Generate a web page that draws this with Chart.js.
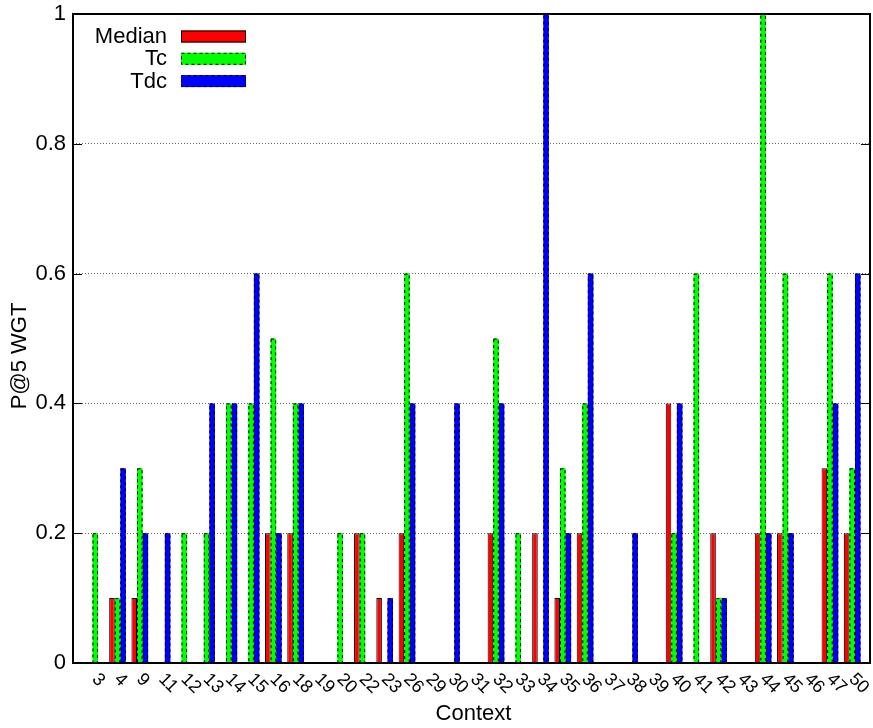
<!DOCTYPE html>
<html>
<head>
<meta charset="utf-8">
<script src="https://cdn.jsdelivr.net/npm/chart.js@4.4.0/dist/chart.umd.min.js"></script>
<style>
  html, body { margin: 0; padding: 0; background: #fff; }
  canvas { display: block; }
</style>
</head>
<body>
<canvas id="chart" width="873" height="728"></canvas>
<script>
// contexts on the x axis (one cluster each)
const contexts = ['3', '4', '9', '11', '12', '13', '14', '15', '16', '18',
    '19', '20', '22', '23', '26', '29', '30', '31', '32', '33',
    '34', '35', '36', '37', '38', '39', '40', '41', '42', '43',
    '44', '45', '46', '47', '50'];

// P@5 WGT per context
const median = [0, 0.1, 0.1, 0, 0, 0, 0, 0, 0.2, 0.2,
    0, 0, 0.2, 0.1, 0.2, 0, 0, 0, 0.2, 0,
    0.2, 0.1, 0.2, 0, 0, 0, 0.4, 0, 0.2, 0,
    0.2, 0.2, 0, 0.3, 0.2];
const tc = [0.2, 0.1, 0.3, 0, 0.2, 0.2, 0.4, 0.4, 0.5, 0.4,
    0, 0.2, 0.2, 0, 0.6, 0, 0, 0, 0.5, 0.2,
    0, 0.3, 0.4, 0, 0, 0, 0.2, 0.6, 0.1, 0,
    1.0, 0.6, 0, 0.6, 0.3];
const tdc = [0, 0.3, 0.2, 0.2, 0, 0.4, 0.4, 0.6, 0.2, 0.4,
    0, 0, 0, 0.1, 0.4, 0, 0.4, 0, 0.4, 0,
    1.0, 0.2, 0.6, 0, 0.2, 0, 0.4, 0, 0.1, 0,
    0.2, 0.2, 0, 0.4, 0.6];

const yTicks = [0, 0.2, 0.4, 0.6, 0.8, 1];

const FONT = '"Liberation Sans", Arial, Helvetica, sans-serif';

const series = [
    { label: 'Median', values: median, color: '#ff0000', dashed: false },
    { label: 'Tc', values: tc, color: '#00ff00', dashed: true },
    { label: 'Tdc', values: tdc, color: '#0000ff', dashed: true }
];

function swatch(ctx, x, y, w, h, color, dashed) {
    ctx.fillStyle = color;
    ctx.fillRect(x, y, w, h);
    ctx.strokeStyle = '#000';
    ctx.lineWidth = 1;
    ctx.setLineDash(dashed ? [3, 3] : []);
    ctx.strokeRect(x + 0.5, y + 0.5, w - 1, h - 1);
    ctx.setLineDash([]);
}

// gnuplot look: dashed bar edges, frame, inward tics, slanted labels, key
const gnuplotFrame = {
    id: 'gnuplotFrame',
    afterDatasetsDraw(chart) {
        const ctx = chart.ctx;
        ctx.save();
        ctx.strokeStyle = '#000';
        ctx.lineWidth = 1;
        ctx.setLineDash([3, 3]);
        series.forEach((s, d) => {
            if (!s.dashed) return;
            chart.getDatasetMeta(d).data.forEach((bar, i) => {
                if (!s.values[i]) return;
                const p = bar.getProps(['x', 'y', 'base', 'width'], true);
                ctx.strokeRect(p.x - p.width / 2 + 0.5, p.y + 0.5, p.width - 1, p.base - p.y);
            });
        });
        ctx.restore();
    },
    afterDraw(chart) {
        const ctx = chart.ctx;
        const a = chart.chartArea;
        const xs = chart.scales.x;
        const ys = chart.scales.y;
        ctx.save();

        // frame
        ctx.strokeStyle = '#000';
        ctx.lineWidth = 2;
        ctx.strokeRect(a.left, a.top, a.right - a.left, a.bottom - a.top);

        // y tics, left and mirrored right
        ctx.lineWidth = 1;
        yTicks.forEach(v => {
            const py = Math.round(ys.getPixelForValue(v)) + 0.5;
            ctx.beginPath();
            ctx.moveTo(a.left, py); ctx.lineTo(a.left + 9, py);
            ctx.moveTo(a.right, py); ctx.lineTo(a.right - 9, py);
            ctx.stroke();
        });

        // x tic labels, rotated by -45 (clockwise)
        ctx.fillStyle = '#000';
        ctx.font = '18px ' + FONT;
        ctx.textAlign = 'left';
        ctx.textBaseline = 'alphabetic';
        contexts.forEach((c, i) => {
            const px = xs.getPixelForValue(i);
            ctx.save();
            ctx.translate(px - 4, a.bottom + 17);
            ctx.rotate(Math.PI / 4);
            ctx.fillText(c, 0, 0);
            ctx.restore();
        });

        // axis titles
        ctx.font = '22px ' + FONT;
        ctx.textAlign = 'center';
        ctx.textBaseline = 'middle';
        ctx.fillText('Context', (a.left + a.right) / 2 + 2, 714);
        ctx.save();
        ctx.translate(20, 356);
        ctx.rotate(-Math.PI / 2);
        ctx.fillText('P@5 WGT', 0, 0);
        ctx.restore();

        // key
        ctx.textAlign = 'right';
        ctx.textBaseline = 'alphabetic';
        series.forEach((s, k) => {
            const by = 43 + k * 22.3;
            ctx.fillStyle = '#000';
            ctx.fillText(s.label, 167, by);
            swatch(ctx, 181, by - 12.5, 65, 12, s.color, s.dashed);
        });

        ctx.restore();
    }
};

new Chart(document.getElementById('chart'), {
    type: 'bar',
    data: {
        datasets: series.map(s => ({
            label: s.label,
            data: s.values.map((v, i) => ({ x: i, y: v })),
            backgroundColor: s.color,
            borderColor: '#000',
            borderWidth: s.dashed ? 0 : 1,
            barPercentage: 1,
            categoryPercentage: 0.75
        }))
    },
    options: {
        responsive: false,
        animation: false,
        devicePixelRatio: 1,
        layout: { padding: { top: 14, right: 3, bottom: 65, left: 0 } },
        plugins: {
            legend: { display: false },
            tooltip: { enabled: false }
        },
        scales: {
            x: {
                type: 'linear',
                min: -1,
                max: 34.8,
                offset: false,
                grid: { offset: false },
                display: false
            },
            y: {
                min: 0,
                max: 1,
                afterBuildTicks: scale => { scale.ticks = yTicks.map(v => ({ value: v })); },
                afterFit: scale => {
                    scale.width = 73;
                    scale.paddingTop = 0;
                    scale.paddingBottom = 0;
                },
                ticks: {
                    color: '#000',
                    padding: 7,
                    font: { family: FONT, size: 22 },
                    callback: v => String(v)
                },
                grid: {
                    drawTicks: false,
                    color: c => (c.tick && c.tick.value > 0 && c.tick.value < 1) ? '#666' : 'rgba(0,0,0,0)',
                    lineWidth: 1
                },
                border: { display: false, dash: [1, 2] }
            }
        }
    },
    plugins: [gnuplotFrame]
});
</script>
</body>
</html>
